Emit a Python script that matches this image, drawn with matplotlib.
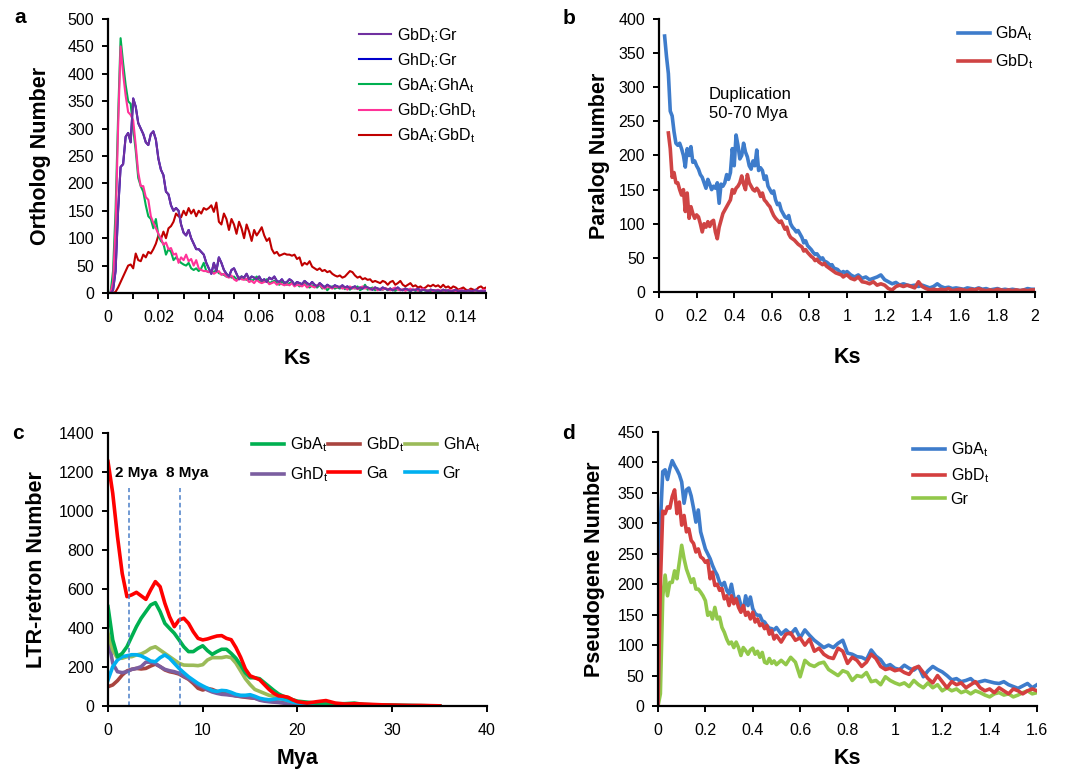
import numpy as np
import matplotlib
matplotlib.use("Agg")
import matplotlib.pyplot as plt
from matplotlib.ticker import MultipleLocator, FuncFormatter

plt.rcParams["font.family"] = ["Liberation Sans", "DejaVu Sans"]
plt.rcParams["mathtext.default"] = "regular"

# ---------------- panel a: ortholog Ks (bins of 0.001) ----------------
ks_a = np.round(np.arange(0, 151) / 1000, 3)

gbdt_gr = [
    0, 0, 5, 40, 150, 230, 235, 285, 292, 275,
    355, 340, 310, 300, 290, 275, 270, 290, 295, 280,
    245, 225, 215, 185, 180, 160, 150, 155, 150, 125,
    110, 105, 115, 100, 90, 80, 80, 75, 70, 55,
    45, 35, 55, 40, 65, 55, 42, 35, 30, 42,
    45, 35, 25, 30, 28, 35, 25, 30, 28, 25,
    30, 22, 25, 20, 28, 25, 30, 22, 20, 25,
    18, 20, 25, 22, 15, 20, 18, 16, 22, 18,
    15, 20, 15, 12, 18, 14, 10, 15, 12, 10,
    14, 12, 10, 14, 10, 12, 8, 10, 12, 8,
    10, 8, 12, 10, 8, 6, 10, 8, 6, 10,
    8, 6, 8, 5, 7, 10, 6, 5, 8, 6,
    4, 6, 5, 8, 4, 6, 5, 3, 6, 5,
    4, 5, 3, 6, 4, 5, 3, 4, 6, 3,
    4, 4, 3, 5, 3, 4, 6, 3, 4, 3,
    4,
]
# GhDt:Gr lies completely under GbDt:Gr in the original
ghdt_gr = list(gbdt_gr)

gbat_ghat = [
    0, 0, 40, 150, 320, 465, 420, 380, 350, 345,
    300, 260, 210, 195, 185, 160, 140, 135, 118, 135,
    105, 95, 90, 70, 80, 75, 60, 65, 60, 55,
    52, 50, 55, 45, 42, 45, 40, 45, 55, 40,
    38, 40, 38, 42, 36, 35, 33, 30, 32, 28,
    30, 25, 28, 30, 26, 24, 28, 22, 25, 30,
    22, 20, 22, 25, 18, 20, 22, 18, 15, 20,
    18, 15, 18, 20, 14, 16, 12, 15, 18, 12,
    10, 14, 12, 10, 15, 8, 12, 5, 10, 12,
    8, 10, 8, 12, 7, 9, 6, 10, 8, 12,
    5, 8, 15, 6, 8, 10, 5, 8, 7, 6,
    9, 5, 8, 6, 4, 7, 5, 6, 8, 5,
    4, 6, 4, 5, 3, 6, 4, 5, 3, 4,
    5, 3, 4, 2, 5, 3, 4, 2, 3, 4,
    2, 3, 2, 4, 3, 2, 3, 2, 3, 2,
    3,
]

gbdt_ghdt = [
    0, 0, 20, 120, 300, 450, 400, 360, 330, 325,
    315, 270, 220, 195, 195, 175, 170, 140, 128, 118,
    108, 100, 88, 92, 80, 82, 70, 72, 55, 65,
    60, 70, 58, 62, 50, 60, 45, 42, 40, 40,
    38, 40, 35, 38, 40, 33, 35, 30, 28, 32,
    25, 22, 28, 25, 24, 26, 20, 22, 18, 24,
    20, 18, 20, 22, 16, 18, 20, 15, 18, 16,
    14, 16, 14, 18, 12, 15, 14, 12, 16, 10,
    14, 12, 10, 14, 16, 10, 8, 12, 10, 8,
    12, 10, 12, 8, 10, 6, 12, 8, 10, 7,
    9, 12, 8, 10, 6, 8, 10, 5, 8, 6,
    9, 7, 5, 8, 10, 6, 5, 7, 4, 6,
    8, 5, 7, 4, 6, 8, 5, 4, 6, 3,
    5, 6, 4, 5, 3, 6, 4, 5, 3, 4,
    6, 4, 3, 5, 4, 3, 5, 4, 3, 6,
    4,
]

gbat_gbdt = [
    0, 0, 0, 2, 10, 20, 30, 40, 50, 52,
    45, 72, 60, 58, 70, 65, 75, 72, 80, 90,
    105, 98, 112, 100, 118, 122, 130, 145, 140, 138,
    150, 142, 155, 145, 152, 140, 150, 145, 155, 152,
    155, 160, 148, 165, 130, 125, 145, 135, 115, 135,
    125, 108, 130, 118, 100, 125, 112, 95, 115, 105,
    112, 120, 105, 95, 100, 80, 72, 75, 68, 70,
    72, 70, 70, 68, 70, 62, 65, 50, 55, 52,
    58, 48, 45, 42, 45, 40, 42, 38, 40, 35,
    32, 30, 32, 28, 30, 35, 40, 38, 32, 28,
    30, 25, 27, 24, 25, 20, 22, 20, 18, 22,
    20, 15, 20, 22, 15, 18, 22, 15, 12, 15,
    18, 12, 14, 10, 12, 8, 10, 14, 12, 15,
    12, 14, 10, 15, 10, 12, 8, 12, 10, 6,
    8, 10, 6, 5, 8, 6, 5, 10, 12, 8,
    10,
]

# ---------------- panel b: paralog Ks ----------------
ks_b = np.round(np.concatenate([np.arange(3, 101) / 100, np.arange(51, 101) / 50]), 2)

para_gbat = [
    375, 345, 320, 265, 258, 235, 218, 215, 218, 210,
    200, 183, 210, 200, 213, 190, 192, 185, 180, 172,
    168, 160, 152, 165, 158, 150, 155, 152, 160, 130,
    158, 155, 160, 172, 165, 175, 210, 185, 230, 215,
    195, 200, 218, 205, 198, 185, 180, 192, 185, 208,
    178, 182, 178, 165, 170, 155, 150, 145, 148, 135,
    128, 130, 120, 115, 110, 108, 112, 100, 95, 92,
    88, 90, 85, 80, 72, 75, 68, 65, 62, 58,
    55, 56, 52, 48, 50, 45, 44, 42, 38, 40,
    35, 34, 33, 30, 28, 30, 28, 30,
    25, 22, 25, 20, 22, 18, 20, 22, 25, 18,
    15, 12, 14, 10, 12, 10, 9, 10, 8, 10,
    8, 6, 8, 12, 8, 6, 7, 5, 6, 5,
    4, 6, 5, 4, 6, 4, 5, 3, 4, 5,
    3, 4, 3, 4, 3, 2, 3, 5, 4, 4,
]

para_gbdt = [
    np.nan, np.nan, 233, 210, 168, 175, 160, 160, 150, 142,
    150, 118, 145, 108, 125, 115, 108, 113, 110, 100,
    88, 100, 95, 103, 96, 103, 105, 88, 78, 95,
    105, 115, 120, 125, 130, 135, 150, 145, 152, 155,
    160, 170, 158, 150, 172, 160, 155, 150, 148, 152,
    148, 140, 145, 135, 132, 128, 125, 118, 112, 108,
    105, 102, 104, 98, 92, 95, 85, 80, 78, 76,
    73, 70, 68, 66, 60, 62, 58, 55, 52, 50,
    46, 48, 44, 42, 40, 42, 38, 36, 34, 32,
    30, 28, 27, 26, 25, 22, 24, 25,
    20, 18, 22, 15, 14, 12, 15, 10, 12, 10,
    5, 3, 8, 10, 8, 10, 8, 6, 15, 8,
    5, 3, 4, 3, 4, 3, 5, 2, 3, 4,
    3, 2, 4, 3, 5, 3, 2, 3, 2, 4,
    3, 2, 3, 2, 3, 2, 3, 2, 3, 3,
]

# ---------------- panel c: LTR-retrotransposon insertion time ----------------
mya = np.concatenate([np.arange(0, 41) / 2, np.arange(21, 36)])

ltr_gbat = [
    510, 339, 253, 270, 304, 356, 407, 450, 484, 518,
    530, 484, 424, 398, 373, 339, 304, 279, 279, 296,
    309, 284, 265, 279, 291, 291, 270, 245, 210, 170,
    145, 145, 140, 120, 100, 80, 62, 50, 42, 32,
    25,
    20, 15, 15, 12, 12, 15, 8, 6, 5, 4, 3, 2, 2, 1, 1,
]
ltr_gbdt = [
    99, 108, 130, 159, 180, 188, 193, 190, 193, 205,
    215, 202, 185, 176, 171, 164, 150, 137, 116, 91,
    82, 90, 85, 75, 68, 62, 58, 52, 48, 45,
    42, 40, 35, 30, 25, 22, 20, 18, 15, 10,
    6,
    4, 4, 3, 3, 2, 2, 2, 1, 1, 1, 1, 0, 0, 0, 0,
]
ltr_ghat = [
    373, 287, 245, 245, 253, 253, 262, 267, 279, 296,
    304, 287, 270, 253, 236, 219, 210, 209, 209, 207,
    212, 236, 248, 248, 248, 253, 248, 220, 180, 140,
    110, 85, 75, 65, 55, 50, 42, 35, 28, 22,
    18,
    14, 12, 10, 9, 8, 8, 6, 5, 4, 3, 2, 2, 1, 1, 0,
]
ltr_ghdt = [
    356, 219, 176, 171, 176, 188, 193, 202, 225, 225,
    218, 202, 188, 181, 176, 168, 154, 140, 125, 108,
    96, 82, 72, 65, 60, 58, 55, 52, 50, 48,
    45, 40, 30, 25, 22, 20, 18, 15, 12, 8,
    5,
    4, 3, 3, 2, 2, 2, 1, 1, 1, 1, 0, 0, 0, 0, 0,
]
ltr_ga = [
    1254, 1091, 869, 680, 561, 570, 583, 565, 547, 595,
    638, 612, 527, 458, 407, 441, 450, 424, 381, 347,
    339, 344, 352, 359, 361, 347, 340, 300, 250, 190,
    155, 145, 135, 110, 85, 65, 52, 50, 45, 32,
    22,
    15, 22, 28, 15, 10, 12, 10, 8, 6, 5, 4, 3, 3, 2, 1,
]
ltr_gr = [
    133, 202, 236, 253, 258, 263, 263, 257, 245, 231,
    227, 248, 262, 245, 219, 193, 171, 150, 133, 116,
    103, 91, 79, 75, 80, 78, 70, 60, 55, 55,
    58, 50, 40, 35, 32, 35, 38, 35, 28, 20,
    15,
    10, 8, 8, 6, 5, 5, 4, 4, 3, 3, 2, 2, 1, 1, 0,
]

# ---------------- panel d: pseudogene Ks ----------------
ks_d = np.round(np.concatenate([np.arange(0, 51) / 100, np.arange(26, 81) / 50]), 2)

pseudo_gbat = [
    0, 300, 385, 388, 372, 390, 403, 395, 388, 380,
    368, 333, 355, 358, 345, 325, 302, 322, 286, 272,
    258, 250, 242, 231, 222, 215, 203, 198, 203, 190,
    184, 200, 179, 172, 180, 165, 157, 181, 165, 179,
    160, 152, 149, 149, 140, 138, 132, 128, 127, 125,
    129,
    118, 125, 118, 127, 112, 125, 116, 108, 102, 96,
    100, 96, 103, 108, 87, 85, 81, 80, 76, 92,
    82, 76, 65, 68, 62, 60, 67, 62, 59, 65,
    48, 58, 65, 60, 56, 50, 43, 45, 40, 42,
    45, 38, 40, 42, 40, 38, 37, 40, 35, 32,
    29, 33, 37, 30, 35,
]
pseudo_gbdt = [
    0, 200, 320, 316, 327, 325, 344, 355, 316, 335,
    297, 313, 286, 291, 272, 267, 253, 258, 245, 242,
    236, 239, 209, 220, 198, 200, 190, 193, 176, 181,
    165, 181, 168, 176, 162, 154, 165, 149, 154, 143,
    154, 138, 143, 132, 135, 127, 132, 118, 124, 110,
    116,
    105, 118, 120, 108, 112, 100, 110, 90, 95, 85,
    80, 78, 95, 90, 70, 80, 75, 65, 72, 85,
    78, 65, 60, 62, 58, 60, 55, 52, 62, 65,
    55, 45, 38, 50, 40, 30, 40, 35, 38, 30,
    35, 40, 30, 25, 28, 22, 30, 25, 20, 28,
    25, 20, 25, 28, 25,
]
pseudo_gr = [
    0, 20, 180, 215, 181, 203, 203, 222, 209, 236,
    264, 242, 225, 214, 203, 209, 192, 192, 187, 181,
    173, 149, 154, 143, 162, 143, 146, 129, 121, 110,
    102, 105, 96, 105, 96, 83, 96, 91, 85, 92,
    95, 85, 90, 80, 88, 72, 70, 78, 70, 74,
    68,
    75, 68, 80, 72, 48, 75, 68, 65, 70, 72,
    60, 55, 50, 58, 55, 42, 50, 48, 55, 40,
    42, 35, 48, 42, 38, 35, 38, 32, 42, 35,
    30, 38, 30, 35, 25, 30, 25, 28, 22, 25,
    20, 25, 22, 18, 15, 20, 22, 18, 20, 15,
    18, 22, 25, 20, 22,
]


def style_axes(ax):
    for side in ("top", "right"):
        ax.spines[side].set_visible(False)
    for side in ("left", "bottom"):
        ax.spines[side].set_linewidth(1.6)
    ax.tick_params(which="both", direction="out", length=4, width=1.4,
                   labelsize=11.5, colors="black")
    ax.tick_params(axis="y", pad=6)
    ax.tick_params(axis="x", pad=8)


def num_fmt(v, pos):
    return f"{v:g}"


LEG = dict(frameon=False, fontsize=11.5, handlelength=2.0, handletextpad=0.35,
           borderaxespad=0, borderpad=0, loc="upper left")
LAB = dict(fontsize=15.5, fontweight="bold")

fig = plt.figure(figsize=(10.81, 7.69), dpi=100)

ax_a = fig.add_axes([0.0999, 0.619, 0.3497, 0.3563])
ax_b = fig.add_axes([0.6096, 0.6203, 0.3479, 0.3550])
ax_c = fig.add_axes([0.0999, 0.0819, 0.3506, 0.3550])
ax_d = fig.add_axes([0.6087, 0.0819, 0.3506, 0.3563])

# panel a
lw_a = 1.5
ax_a.plot(ks_a, ghdt_gr, color="#0000CC", lw=lw_a, label="GhD$_t$:Gr")
ax_a.plot(ks_a, gbat_gbdt, color="#C00000", lw=lw_a, label="GbA$_t$:GbD$_t$")
ax_a.plot(ks_a, gbat_ghat, color="#00B050", lw=lw_a, label="GbA$_t$:GhA$_t$")
ax_a.plot(ks_a, gbdt_ghdt, color="#FF3399", lw=lw_a, label="GbD$_t$:GhD$_t$")
ax_a.plot(ks_a, gbdt_gr, color="#7030A0", lw=lw_a, label="GbD$_t$:Gr")
ax_a.set_xlim(0, 0.15)
ax_a.set_ylim(0, 500)
ax_a.xaxis.set_major_locator(MultipleLocator(0.02))
ax_a.xaxis.set_minor_locator(MultipleLocator(0.01))
ax_a.yaxis.set_major_locator(MultipleLocator(50))
ax_a.xaxis.set_major_formatter(FuncFormatter(num_fmt))
style_axes(ax_a)
h, l = ax_a.get_legend_handles_labels()
order = [4, 0, 2, 3, 1]
ax_a.legend([h[i] for i in order], [l[i] for i in order],
            bbox_to_anchor=(0.664, 0.975), labelspacing=0.4, **LEG)
ax_a.set_ylabel("Ortholog Number", **LAB)
ax_a.set_xlabel("Ks", **LAB)
ax_a.yaxis.set_label_coords(-0.15, 0.5)
ax_a.xaxis.set_label_coords(0.5, -0.2)

# panel b
ax_b.plot(ks_b, para_gbat, color="#3E7CCB", lw=2.6, label="GbA$_t$")
ax_b.plot(ks_b, para_gbdt, color="#CF4444", lw=2.6, label="GbD$_t$")
ax_b.set_xlim(0, 2)
ax_b.set_ylim(0, 400)
ax_b.xaxis.set_major_locator(MultipleLocator(0.2))
ax_b.yaxis.set_major_locator(MultipleLocator(50))
ax_b.xaxis.set_major_formatter(FuncFormatter(num_fmt))
style_axes(ax_b)
ax_b.legend(bbox_to_anchor=(0.795, 0.98), labelspacing=0.6, **LEG)
ax_b.text(0.265, 300, "Duplication\n50-70 Mya", fontsize=12, ha="left", va="top",
          linespacing=1.35)
ax_b.set_ylabel("Paralog Number", **LAB)
ax_b.set_xlabel("Ks", **LAB)
ax_b.yaxis.set_label_coords(-0.13, 0.5)
ax_b.xaxis.set_label_coords(0.5, -0.2)

# panel c
lw_c = 2.6
lines_c = {}
lines_c["gbd"] = ax_c.plot(mya, ltr_gbdt, color="#A9443F", lw=lw_c, label="GbD$_t$")[0]
lines_c["ghd"] = ax_c.plot(mya, ltr_ghdt, color="#7B5EA0", lw=lw_c, label="GhD$_t$")[0]
lines_c["gha"] = ax_c.plot(mya, ltr_ghat, color="#9BBB59", lw=lw_c, label="GhA$_t$")[0]
lines_c["gr"] = ax_c.plot(mya, ltr_gr, color="#00B0F0", lw=lw_c, label="Gr")[0]
lines_c["gba"] = ax_c.plot(mya, ltr_gbat, color="#00B050", lw=lw_c, label="GbA$_t$")[0]
lines_c["ga"] = ax_c.plot(mya, ltr_ga, color="#FF0000", lw=lw_c, label="Ga")[0]
ax_c.plot([2.2, 2.2], [0, 1120], color="#4A7EC8", lw=1.1, ls=(0, (3, 2)))
ax_c.plot([7.6, 7.6], [0, 1120], color="#4A7EC8", lw=1.1, ls=(0, (3, 2)))
ax_c.text(3.0, 1195, "2 Mya", fontsize=11, fontweight="bold", ha="center", va="center")
ax_c.text(8.4, 1195, "8 Mya", fontsize=11, fontweight="bold", ha="center", va="center")
ax_c.set_xlim(0, 40)
ax_c.set_ylim(0, 1400)
ax_c.xaxis.set_major_locator(MultipleLocator(10))
ax_c.yaxis.set_major_locator(MultipleLocator(200))
style_axes(ax_c)
order_c = ["gba", "ghd", "gbd", "ga", "gha", "gr"]
ax_c.legend([lines_c[k] for k in order_c], [lines_c[k].get_label() for k in order_c],
            bbox_to_anchor=(0.38, 0.99), ncol=3, columnspacing=0.05,
            labelspacing=0.7, **LEG)
ax_c.set_ylabel("LTR-retron Number", **LAB)
ax_c.set_xlabel("Mya", **LAB)
ax_c.yaxis.set_label_coords(-0.16, 0.5)
ax_c.xaxis.set_label_coords(0.5, -0.155)

# panel d
ax_d.plot(ks_d, pseudo_gr, color="#92C84A", lw=2.6, label="Gr")
ax_d.plot(ks_d, pseudo_gbat, color="#3E7CCB", lw=2.6, label="GbA$_t$")
ax_d.plot(ks_d, pseudo_gbdt, color="#D43F3F", lw=2.6, label="GbD$_t$")
ax_d.set_xlim(0, 1.6)
ax_d.set_ylim(0, 450)
ax_d.xaxis.set_major_locator(MultipleLocator(0.2))
ax_d.yaxis.set_major_locator(MultipleLocator(50))
ax_d.xaxis.set_major_formatter(FuncFormatter(num_fmt))
style_axes(ax_d)
h, l = ax_d.get_legend_handles_labels()
ax_d.legend([h[1], h[2], h[0]], [l[1], l[2], l[0]],
            bbox_to_anchor=(0.673, 0.97), labelspacing=0.45, **LEG)
ax_d.set_ylabel("Pseudogene Number", **LAB)
ax_d.set_xlabel("Ks", **LAB)
ax_d.yaxis.set_label_coords(-0.14, 0.5)
ax_d.xaxis.set_label_coords(0.5, -0.155)

# panel letters
for x, y, s in [(0.013, 0.99, "a"), (0.52, 0.988, "b"),
                (0.011, 0.448, "c"), (0.52, 0.449, "d")]:
    fig.text(x, y, s, fontsize=15, fontweight="bold", ha="left", va="top")

fig.savefig("out.png", dpi=100)
